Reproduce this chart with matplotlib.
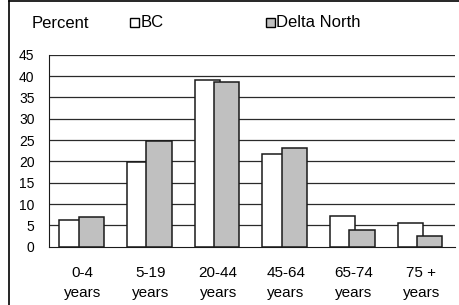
import matplotlib
matplotlib.use('Agg')
import matplotlib.pyplot as plt
from matplotlib.patches import Rectangle
from matplotlib.lines import Line2D
import numpy as np

# Data
categories = ['0-4\nyears', '5-19\nyears', '20-44\nyears', '45-64\nyears', '65-74\nyears', '75 +\nyears']
bc = [6.2, 19.9, 39.1, 21.7, 7.3, 5.5]
delta_north = [6.9, 24.8, 38.6, 23.1, 4.0, 2.6]
yticks = [0, 5, 10, 15, 20, 25, 30, 35, 40, 45]

plt.rcParams['font.family'] = ['Liberation Sans', 'DejaVu Sans']

W, H = 460, 305
fig = plt.figure(figsize=(W / 100, H / 100), dpi=100)

# plot area in pixels
x0, x1 = 49, 455
ytop, ybot = 54.7, 246.7
ax = fig.add_axes([x0 / W, 1 - ybot / H, (x1 - x0) / W, (ybot - ytop) / H])

x = np.arange(len(categories))
bw = 0.373
for t in yticks[1:]:
    ax.axhline(t, color='#2a2a2a', lw=0.9, zorder=0)
ax.bar(x + 0.152, bc, width=bw, align='edge', color='white', edgecolor='#1a1a1a', lw=1.1, zorder=2)
ax.bar(x + 0.439, delta_north, width=bw, align='edge', color='#c0c0c0', edgecolor='#1a1a1a', lw=1.1, zorder=3)

ax.set_xlim(0, len(categories))
ax.set_ylim(0, 45)
ax.set_yticks(yticks)
ax.set_xticks(x + 0.5)
ax.set_xticklabels(categories, linespacing=1.5)
ax.tick_params(axis='y', length=0, pad=10.5, labelsize=10)
ax.tick_params(axis='x', length=0, pad=14, labelsize=11)
for s in ['right', 'top']:
    ax.spines[s].set_visible(False)
ax.spines['left'].set_color('#1a1a1a')
ax.spines['bottom'].set_color('#1a1a1a')

# header: "Percent" and legend
fig.text(32 / W, 1 - 23 / H, 'Percent', ha='left', va='center', fontsize=12)
for px, label, col in [(130, 'BC', 'white'), (265.5, 'Delta North', '#c0c0c0')]:
    fig.patches.append(Rectangle((px / W, 1 - 26.7 / H), 9 / W, 8.5 / H, transform=fig.transFigure,
                                 facecolor=col, edgecolor='black', lw=1.0))
    fig.text((px + 10.5) / W, 1 - 22.5 / H, label, ha='left', va='center', fontsize=12)

# outer frame (top and left edges visible)
fig.add_artist(Line2D([8.5 / W, 1], [1 - 0.8 / H, 1 - 0.8 / H], transform=fig.transFigure, color='black', lw=1.2))
fig.add_artist(Line2D([8.5 / W, 8.5 / W], [0, 1 - 0.8 / H], transform=fig.transFigure, color='black', lw=1.2))

fig.savefig('out.png', dpi=100)
